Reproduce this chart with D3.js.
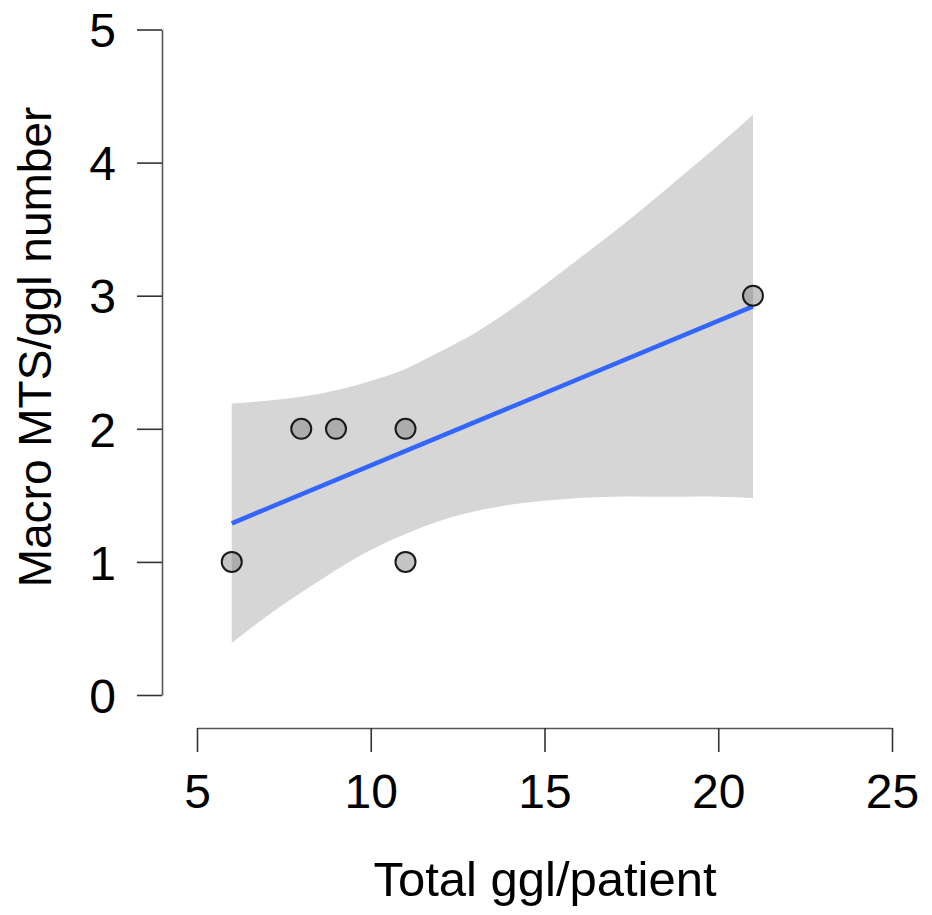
<!DOCTYPE html>
<html>
<head>
<meta charset="utf-8">
<script src="https://cdn.jsdelivr.net/npm/d3@7"></script>
<style>
  body { margin: 0; background: #fff; }
  text { font-family: "Liberation Sans", Arial, sans-serif; fill: #000; }
</style>
</head>
<body>
<svg id="chart"></svg>
<script>
var width = 932;
var height = 915;

// Data
var ptX = [6, 8, 9, 11, 11, 21];
var ptY = [1, 2, 2, 2, 1, 3];

var fitX = [6, 21];
var fitY = [1.29, 2.92];

var bandX     = [6,    7,    8,    9,    10,   11,   12,   13,   14,   15,   16,   17,   18,   19,   20,   21];
var bandLower = [0.39, 0.59, 0.77, 0.94, 1.09, 1.21, 1.31, 1.38, 1.43, 1.46, 1.48, 1.49, 1.49, 1.49, 1.49, 1.48];
var bandUpper = [2.19, 2.21, 2.24, 2.29, 2.36, 2.45, 2.58, 2.72, 2.89, 3.08, 3.28, 3.48, 3.69, 3.91, 4.13, 4.36];

var xTicks = [5, 10, 15, 20, 25];
var yTicks = [0, 1, 2, 3, 4, 5];

// Scales
var xScale = d3.scaleLinear()
                .domain([5, 25])
                .range([197, 892]);

var yScale = d3.scaleLinear()
                .domain([0, 5])
                .range([695, 29.5]);

var svg = d3.select('#chart')
    .attr('width', width)
    .attr('height', height);

// Confidence band
var band = bandX.map((x, i) => ({x: x, lo: bandLower[i], hi: bandUpper[i]}));

svg.append('path')
    .datum(band)
    .attr('fill', '#d6d6d6')
    .attr('d', d3.area()
        .x(d => xScale(d.x))
        .y0(d => yScale(d.lo))
        .y1(d => yScale(d.hi))
        .curve(d3.curveNatural));

// Fit line
svg.append('path')
    .datum(fitX.map((x, i) => ({x: x, y: fitY[i]})))
    .attr('fill', 'none')
    .attr('stroke', '#3366ff')
    .attr('stroke-width', 4.5)
    .attr('d', d3.line().x(d => xScale(d.x)).y(d => yScale(d.y)));

// Points
svg.selectAll('circle')
    .data(ptX.map((x, i) => ({x: x, y: ptY[i]})))
    .enter()
    .append('circle')
        .attr('cx', d => xScale(d.x))
        .attr('cy', d => yScale(d.y))
        .attr('r', 10)
        .attr('fill', 'rgba(110,110,110,0.4)')
        .attr('stroke', '#1a1a1a')
        .attr('stroke-width', 2);

// Axes
var yAxis = d3.axisLeft(yScale)
              .tickValues(yTicks)
              .tickFormat(d3.format('d'))
              .tickSize(25)
              .tickSizeOuter(0)
              .tickPadding(21);

var xAxis = d3.axisBottom(xScale)
              .tickValues(xTicks)
              .tickFormat(d3.format('d'))
              .tickSize(24)
              .tickSizeOuter(0)
              .tickPadding(22);

var gy = svg.append('g')
    .attr('transform', 'translate(162,0)')
    .call(yAxis);

var gx = svg.append('g')
    .attr('transform', 'translate(0,728)')
    .call(xAxis);

[gy, gx].forEach(g => {
    g.select('.domain').attr('stroke', '#555').attr('stroke-width', 1.6);
    g.selectAll('.tick line').attr('stroke', '#333').attr('stroke-width', 1.6);
    g.selectAll('.tick text')
        .style('font-size', '48px')
        .style('font-family', '"Liberation Sans", Arial, sans-serif')
        .attr('fill', '#000');
});

gy.selectAll('.tick text').attr('dy', '0.36em');

// Axis titles
svg.append('text')
    .attr('x', 545)
    .attr('y', 896)
    .style('font-size', '49px')
    .style('text-anchor', 'middle')
    .text('Total ggl/patient');

svg.append('text')
    .attr('transform', 'rotate(-90)')
    .attr('x', -347)
    .attr('y', 51)
    .style('font-size', '46px')
    .style('text-anchor', 'middle')
    .text('Macro MTS/ggl number');
</script>
</body>
</html>
